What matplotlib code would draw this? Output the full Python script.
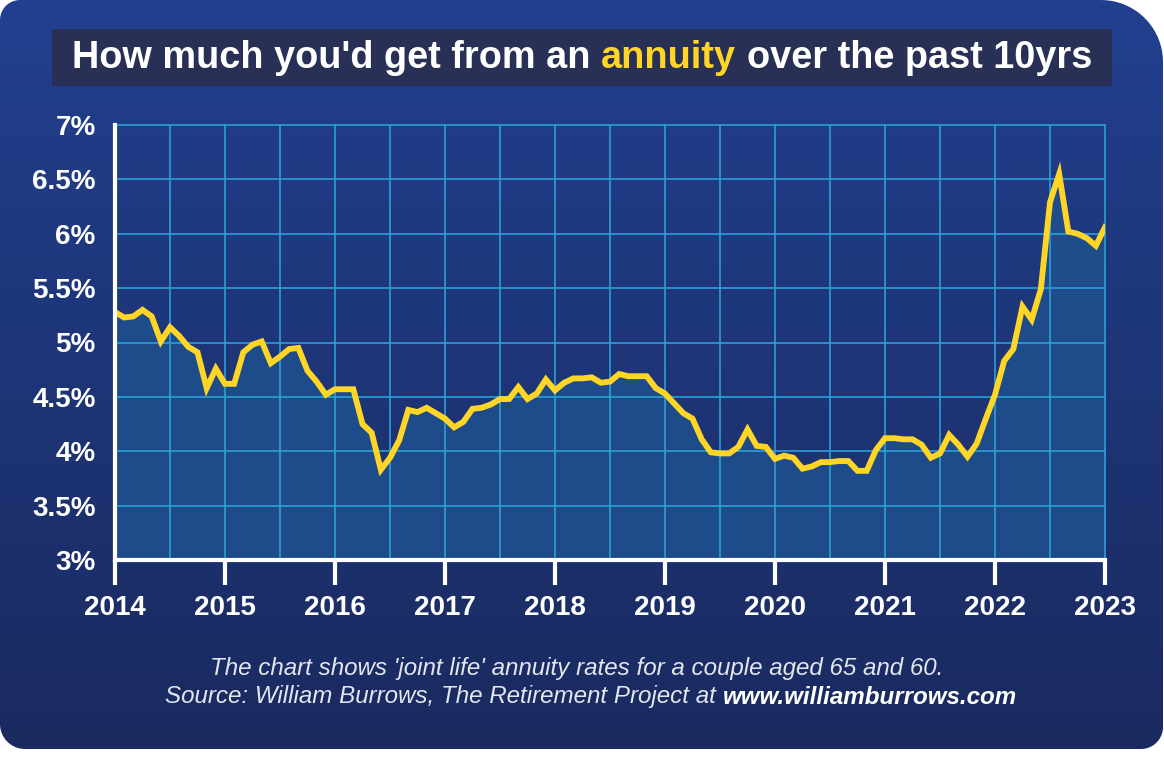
import numpy as np
import matplotlib.pyplot as plt
from matplotlib.path import Path
from matplotlib.patches import PathPatch, Rectangle
from matplotlib.colors import LinearSegmentedColormap

plt.rcParams['font.family'] = ['Liberation Sans', 'DejaVu Sans']

# monthly joint-life annuity rate (%), Jan 2014 .. Jan 2023
rates = [5.28, 5.23, 5.24, 5.30, 5.24, 5.01, 5.14, 5.06, 4.96, 4.91, 4.58, 4.76,
         4.62, 4.62, 4.91, 4.98, 5.01, 4.81, 4.87, 4.94, 4.95, 4.74, 4.64, 4.52,
         4.57, 4.57, 4.57, 4.25, 4.17, 3.83, 3.94, 4.10, 4.38, 4.36, 4.40, 4.35,
         4.30, 4.22, 4.27, 4.39, 4.40, 4.43, 4.48, 4.48, 4.59, 4.48, 4.53, 4.66,
         4.56, 4.63, 4.67, 4.67, 4.68, 4.63, 4.64, 4.71, 4.69, 4.69, 4.69, 4.58,
         4.53, 4.44, 4.35, 4.30, 4.11, 3.99, 3.98, 3.98, 4.04, 4.20, 4.05, 4.04,
         3.93, 3.96, 3.94, 3.84, 3.86, 3.90, 3.90, 3.91, 3.91, 3.82, 3.82, 4.01,
         4.12, 4.12, 4.11, 4.11, 4.06, 3.94, 3.98, 4.15, 4.06, 3.95, 4.07, 4.30,
         4.52, 4.83, 4.94, 5.33, 5.21, 5.49, 6.29, 6.55, 6.02, 6.00, 5.96, 5.89,
         6.06]
start_year = 2014
years = list(range(2014, 2024))
y_ticks = [3, 3.5, 4, 4.5, 5, 5.5, 6, 6.5, 7]
y_labels = ["3%", "3.5%", "4%", "4.5%", "5%", "5.5%", "6%", "6.5%", "7%"]

title_parts = ["How much you'd get from an", "annuity", "over the past 10yrs"]
note1 = "The chart shows 'joint life' annuity rates for a couple aged 65 and 60."
note2_parts = ["Source: William Burrows, The Retirement Project at", "www.williamburrows.com"]

t = start_year + np.arange(len(rates)) / 12.0

W, H = 1164, 758
fig = plt.figure(figsize=(W / 100, H / 100), dpi=100)
fig.patch.set_facecolor("white")

bg = fig.add_axes([0, 0, 1, 1])
bg.set_xlim(0, W)
bg.set_ylim(H, 0)
bg.axis("off")

# card with different corner radii
x0, x1, y0, y1 = 0, 1163, 0, 749
corners = [((x0 + 20, y0 + 20), 20, 180, 270),
           ((x1 - 62, y0 + 62), 62, 270, 360),
           ((x1 - 22, y1 - 22), 22, 0, 90),
           ((x0 + 25, y1 - 25), 25, 90, 180)]
pts = []
for (cx, cy), r, a0, a1 in corners:
    a = np.radians(np.linspace(a0, a1, 20))
    pts += list(zip(cx + r * np.cos(a), cy + r * np.sin(a)))
pts.append(pts[0])
card = PathPatch(Path(pts), facecolor="none", edgecolor="none")
bg.add_patch(card)
grad = np.linspace(0, 1, 256).reshape(-1, 1)
cmap = LinearSegmentedColormap.from_list("card", ["#22408f", "#1e3577", "#1a2a5f"])
im = bg.imshow(grad, cmap=cmap, extent=[x0, x1, y1, y0], aspect="auto", zorder=0)
im.set_clip_path(card)

bg.add_patch(Rectangle((52, 29), 1060, 57, facecolor="#283056", edgecolor="none", zorder=1))

renderer = fig.canvas.get_renderer()


def text_row(xc, y, parts, props):
    texts = []
    for s, p in zip(parts, props):
        texts.append(bg.text(0, y, s, ha="left", va="center", zorder=3, **p))
    ws = [tx.get_window_extent(renderer).width for tx in texts]
    gaps = []
    for p in props[:-1]:
        a = bg.text(0, 0, "x x", **p)
        b = bg.text(0, 0, "xx", **p)
        gaps.append(a.get_window_extent(renderer).width - b.get_window_extent(renderer).width)
        a.remove()
        b.remove()
    total = sum(ws) + sum(gaps)
    x = xc - total / 2
    for i, tx in enumerate(texts):
        tx.set_x(x)
        x += ws[i] + (gaps[i] if i < len(gaps) else 0)


tp = dict(fontsize=27.3, fontweight="bold", color="white")
text_row(582, 58, title_parts, [tp, dict(tp, color="#ffd526"), tp])

np_ = dict(fontsize=17.4, style="italic", color="#e3e6ef")
bg.text(577, 668, note1, ha="center", va="center", zorder=3, **np_)
text_row(591, 697, note2_parts, [np_, dict(np_, fontweight="bold", color="white")])

# chart
ax = fig.add_axes([115 / W, (H - 560) / H, 990 / W, 435 / H])
ax.set_facecolor("none")
ax.fill_between(t, rates, 3, color="#1f4e8c", alpha=0.95, linewidth=0, zorder=1)
ax.plot(t, rates, color="#ffd526", linewidth=4.2, solid_joinstyle="miter", zorder=3)
ax.set_xlim(2014, 2023)
ax.set_ylim(3, 7)
ax.set_xticks(years)
ax.set_xticks(np.arange(2014.5, 2023, 1), minor=True)
ax.set_yticks(y_ticks)
ax.set_yticklabels(y_labels)
ax.set_axisbelow("line")
ax.grid(True, which="both", color="#2a9fd8", linewidth=1.2)
for s in ["top", "right"]:
    ax.spines[s].set_visible(False)
for s in ["left", "bottom"]:
    ax.spines[s].set_color("white")
    ax.spines[s].set_linewidth(3)
    ax.spines[s].set_zorder(4)
ax.tick_params(axis="x", which="major", length=18, width=3, color="white", pad=7,
               labelsize=20, labelcolor="white")
ax.tick_params(axis="x", which="minor", length=0)
ax.tick_params(axis="y", length=0, pad=14, labelsize=20, labelcolor="white")
for lab in ax.get_xticklabels() + ax.get_yticklabels():
    lab.set_fontweight("bold")
for gl in ax.get_xgridlines() + ax.get_ygridlines():
    gl.set_clip_on(False)

fig.savefig("out.png", dpi=100, facecolor="white")
